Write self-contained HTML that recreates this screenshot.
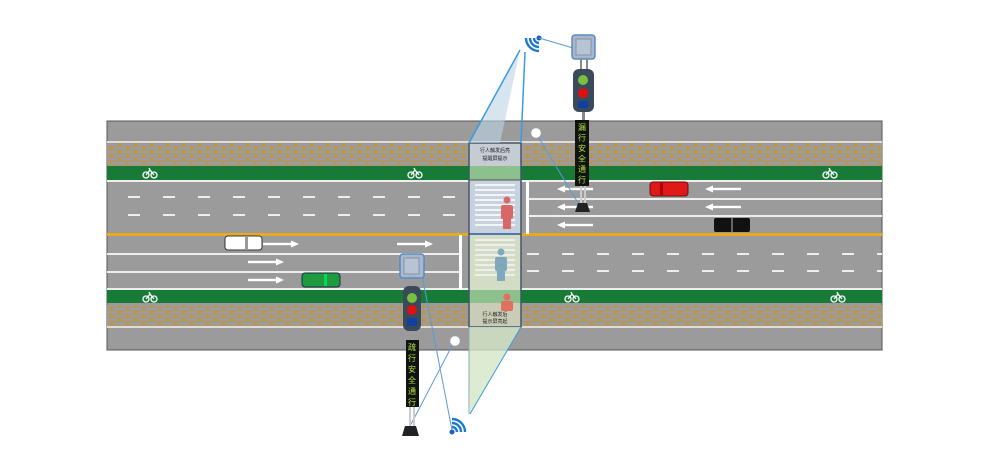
<!DOCTYPE html>
<html><head><meta charset="utf-8"><style>body{margin:0;background:#fff}svg{display:block}</style></head><body>
<svg width="1000" height="470" xmlns="http://www.w3.org/2000/svg" font-family="Liberation Sans, Noto Sans CJK SC, sans-serif">
<defs>
<pattern id="brick" width="16" height="7.3" patternUnits="userSpaceOnUse">
<rect width="16" height="7.3" fill="#b8964a"/>
<rect x="1" y="1" width="13" height="2.6" fill="#9c9ca6"/>
<rect x="-7" y="4.6" width="13" height="2.6" fill="#9c9ca6"/>
<rect x="9" y="4.6" width="13" height="2.6" fill="#9c9ca6"/>
</pattern>
<g id="bike"><circle cx="-4" cy="2" r="3" fill="none" stroke="#fff" stroke-width="1.3"/><circle cx="4" cy="2" r="3" fill="none" stroke="#fff" stroke-width="1.3"/><path d="M-4 2 L0 -3 L4 2 M0 -3 L-1 -5" stroke="#fff" stroke-width="1.3" fill="none"/></g>
<g id="ar"><rect x="0" y="-1.2" width="28" height="2.4" fill="#fff"/><path d="M28 -3.5 L36 0 L28 3.5Z" fill="#fff"/></g>
<g id="al"><rect x="8" y="-1.2" width="28" height="2.4" fill="#fff"/><path d="M8 -3.5 L0 0 L8 3.5Z" fill="#fff"/></g>
</defs>
<rect x="107" y="121" width="775" height="229" fill="#9b9b9b" stroke="#555" stroke-width="1"/>
<rect x="107" y="143" width="775" height="22" fill="url(#brick)"/>
<rect x="107" y="305" width="775" height="21" fill="url(#brick)"/>
<rect x="107" y="141" width="775" height="2" fill="#ddd"/>
<rect x="107" y="326" width="775" height="2" fill="#ddd"/>
<rect x="107" y="166" width="775" height="14" fill="#177a36"/>
<rect x="107" y="290" width="775" height="13" fill="#177a36"/>
<rect x="107" y="180" width="775" height="2" fill="#eee"/>
<rect x="107" y="288" width="775" height="2" fill="#eee"/>
<rect x="107" y="233" width="775" height="3" fill="#e8a820"/>
<g stroke="#eee" stroke-width="2" stroke-dasharray="12 23">
<line x1="128" y1="197" x2="469" y2="197"/><line x1="128" y1="215" x2="469" y2="215"/>
<line x1="527" y1="254" x2="882" y2="254"/><line x1="527" y1="271" x2="882" y2="271"/>
</g>
<rect x="107" y="253" width="353" height="2" fill="#eee"/>
<rect x="107" y="271" width="353" height="2" fill="#eee"/>
<rect x="459" y="235" width="3" height="55" fill="#fff"/>
<rect x="527" y="198" width="355" height="2" fill="#eee"/>
<rect x="527" y="215" width="355" height="2" fill="#eee"/>
<rect x="526" y="181" width="3" height="53" fill="#fff"/>
<use href="#bike" x="150" y="173"/><use href="#bike" x="415" y="173"/><use href="#bike" x="830" y="173"/>
<use href="#bike" x="150" y="297"/><use href="#bike" x="572" y="297"/><use href="#bike" x="838" y="297"/>
<use href="#ar" x="263" y="244"/><use href="#ar" x="248" y="262"/><use href="#ar" x="248" y="280"/><use href="#ar" x="397" y="244"/>
<use href="#al" x="705" y="189"/><use href="#al" x="705" y="207"/><use href="#al" x="557" y="189"/><use href="#al" x="557" y="207"/><use href="#al" x="557" y="225"/>
<rect x="225" y="236" width="37" height="14" rx="3" fill="#fff" stroke="#333"/><rect x="245" y="237" width="3" height="12" fill="#999"/>
<rect x="302" y="273" width="38" height="14" rx="3" fill="#1f9a3e" stroke="#134"/><rect x="324" y="274" width="3" height="12" fill="#0d5"/>
<rect x="650" y="182" width="38" height="14" rx="3" fill="#e01818" stroke="#611"/><rect x="660" y="183" width="3" height="12" fill="#a00"/>
<rect x="714" y="218" width="36" height="14" rx="2" fill="#111"/><rect x="731" y="218" width="2" height="14" fill="#666"/>
<rect x="469" y="143" width="52" height="37" fill="#c5ccd4"/>
<rect x="469" y="166" width="52" height="14" fill="#8cc08c"/>
<rect x="469" y="180" width="52" height="55" fill="#c8d2de"/>
<rect x="469" y="235" width="52" height="57" fill="#d3dcc4"/>
<rect x="469" y="290" width="52" height="13" fill="#8cc08c"/>
<rect x="469" y="303" width="52" height="24" fill="#c9ccb6"/>
<g fill="#f2f4f6">
<rect x="475" y="184" width="40" height="2"/><rect x="475" y="189" width="40" height="2"/><rect x="475" y="194" width="40" height="2"/><rect x="475" y="199" width="40" height="2"/><rect x="475" y="204" width="40" height="2"/><rect x="475" y="209" width="40" height="2"/><rect x="475" y="214" width="40" height="2"/><rect x="475" y="219" width="40" height="2"/><rect x="475" y="224" width="40" height="2"/>
<rect x="475" y="239" width="40" height="2" opacity=".8"/><rect x="475" y="244" width="40" height="2" opacity=".8"/><rect x="475" y="249" width="40" height="2" opacity=".8"/><rect x="475" y="254" width="40" height="2" opacity=".8"/><rect x="475" y="259" width="40" height="2" opacity=".8"/><rect x="475" y="264" width="40" height="2" opacity=".8"/><rect x="475" y="269" width="40" height="2" opacity=".8"/><rect x="475" y="274" width="40" height="2" opacity=".8"/>
</g>
<g fill="#d86868"><circle cx="507" cy="200" r="3.5"/><rect x="501" y="205" width="12" height="14" rx="2"/><rect x="503" y="218" width="8" height="11"/></g>
<g fill="#7fa8bc"><circle cx="501" cy="252" r="3.5"/><rect x="495" y="257" width="12" height="14" rx="2"/><rect x="497" y="270" width="8" height="11"/></g>
<g fill="#e07060"><circle cx="507" cy="297" r="3.5"/><rect x="501" y="301" width="12" height="10" rx="2"/></g>
<rect x="469" y="143" width="52" height="184" fill="none" stroke="#44556a" stroke-width="1.5"/>
<line x1="469" y1="234" x2="521" y2="234" stroke="#2a5a9a" stroke-width="1.5"/>
<line x1="469" y1="180" x2="521" y2="180" stroke="#555" stroke-width="1"/>
<text x="495" y="152" font-size="5" text-anchor="middle" fill="#222">行人触发后亮</text>
<text x="495" y="160" font-size="5" text-anchor="middle" fill="#222">提醒屏提示</text>
<text x="495" y="316" font-size="5" text-anchor="middle" fill="#222">行人触发后</text>
<text x="495" y="323" font-size="5" text-anchor="middle" fill="#222">提示屏亮起</text>
<path d="M520 50 L469 143 L500 143 Z" fill="#bcd4e4" opacity=".6"/>
<line x1="520" y1="50" x2="469" y2="143" stroke="#3b9be0" stroke-width="1.5"/>
<line x1="525" y1="52" x2="521" y2="143" stroke="#3b9be0" stroke-width="1.5"/>
<path d="M469 327 L521 327 L470 414 Z" fill="#d4e6c8" opacity=".8"/>
<line x1="521" y1="327" x2="470" y2="414" stroke="#3b9be0" stroke-width="1"/>
<line x1="469" y1="327" x2="469" y2="414" stroke="#8aa" stroke-width="1"/>
<g fill="none" stroke="#1e7ad0" stroke-width="2.4"><path d="M534 38 A5 5 0 0 0 539 43"/><path d="M530 38 A9 9 0 0 0 539 47"/><path d="M526 38 A13 13 0 0 0 539 51"/></g>
<circle cx="539" cy="38" r="2.5" fill="#1b5fc0"/>
<g fill="none" stroke="#1e7ad0" stroke-width="2.4"><path d="M452 427 A5 5 0 0 1 457 432"/><path d="M452 423 A9 9 0 0 1 461 432"/><path d="M452 419 A13 13 0 0 1 465 432"/></g>
<circle cx="452" cy="432" r="2.5" fill="#1b5fc0"/>
<g stroke="#5a9ad8" stroke-width="1" fill="none"><line x1="539" y1="38" x2="573" y2="48"/><line x1="536" y1="133" x2="581" y2="208"/><line x1="455" y1="340" x2="408" y2="430"/><line x1="421" y1="270" x2="452" y2="430"/></g>
<circle cx="536" cy="133" r="5" fill="#fff" stroke="#aaa" stroke-width=".5"/>
<circle cx="455" cy="341" r="5" fill="#fff" stroke="#aaa" stroke-width=".5"/>
<rect x="572" y="35" width="23" height="24" rx="3" fill="#a8b8cc" stroke="#5a8ac0" stroke-width="1.5"/>
<rect x="576" y="39" width="15" height="16" fill="#b8c4d4" stroke="#7a8a9a" stroke-width=".8"/>
<rect x="580" y="59" width="2" height="10" fill="#888"/><rect x="586" y="59" width="2" height="10" fill="#888"/>
<rect x="573" y="69" width="21" height="43" rx="6" fill="#3a4a5a"/>
<circle cx="583" cy="80" r="5" fill="#7ac040"/><circle cx="583" cy="93" r="5" fill="#e01010"/>
<rect x="578" y="101" width="10" height="7" fill="#1040a0"/>
<rect x="582" y="112" width="3" height="8" fill="#888"/>
<rect x="575" y="120" width="14" height="66" fill="#101410"/>
<text font-size="8" fill="#b8e040" text-anchor="middle"><tspan x="582" y="130">漏</tspan><tspan x="582" y="140.5">行</tspan><tspan x="582" y="151">安</tspan><tspan x="582" y="161.5">全</tspan><tspan x="582" y="172">通</tspan><tspan x="582" y="182.5">行</tspan></text>
<rect x="580" y="186" width="2" height="18" fill="#ccc"/><rect x="584" y="186" width="2" height="18" fill="#ccc"/>
<path d="M575 212 L578 203 L587 203 L590 212 Z" fill="#222"/>
<rect x="400" y="254" width="24" height="24" rx="3" fill="#a8b8cc" stroke="#5a8ac0" stroke-width="1.5"/>
<rect x="404" y="258" width="15" height="16" fill="#b8c4d4" stroke="#7a8a9a" stroke-width=".8"/>
<rect x="403" y="286" width="18" height="45" rx="6" fill="#3a4a5a"/>
<circle cx="412" cy="298" r="5" fill="#7ac040"/><circle cx="412" cy="310" r="5" fill="#e01010"/>
<rect x="407" y="318" width="10" height="8" fill="#1040a0"/>
<rect x="406" y="340" width="13" height="67" fill="#101410"/>
<text font-size="8" fill="#b8e040" text-anchor="middle"><tspan x="412" y="350">疏</tspan><tspan x="412" y="361">行</tspan><tspan x="412" y="372">安</tspan><tspan x="412" y="383">全</tspan><tspan x="412" y="394">通</tspan><tspan x="412" y="405">行</tspan></text>
<rect x="409" y="407" width="2" height="20" fill="#ccc"/><rect x="413" y="407" width="2" height="20" fill="#ccc"/>
<path d="M402 436 L405 426 L416 426 L419 436 Z" fill="#222"/>
</svg>
</body></html>
